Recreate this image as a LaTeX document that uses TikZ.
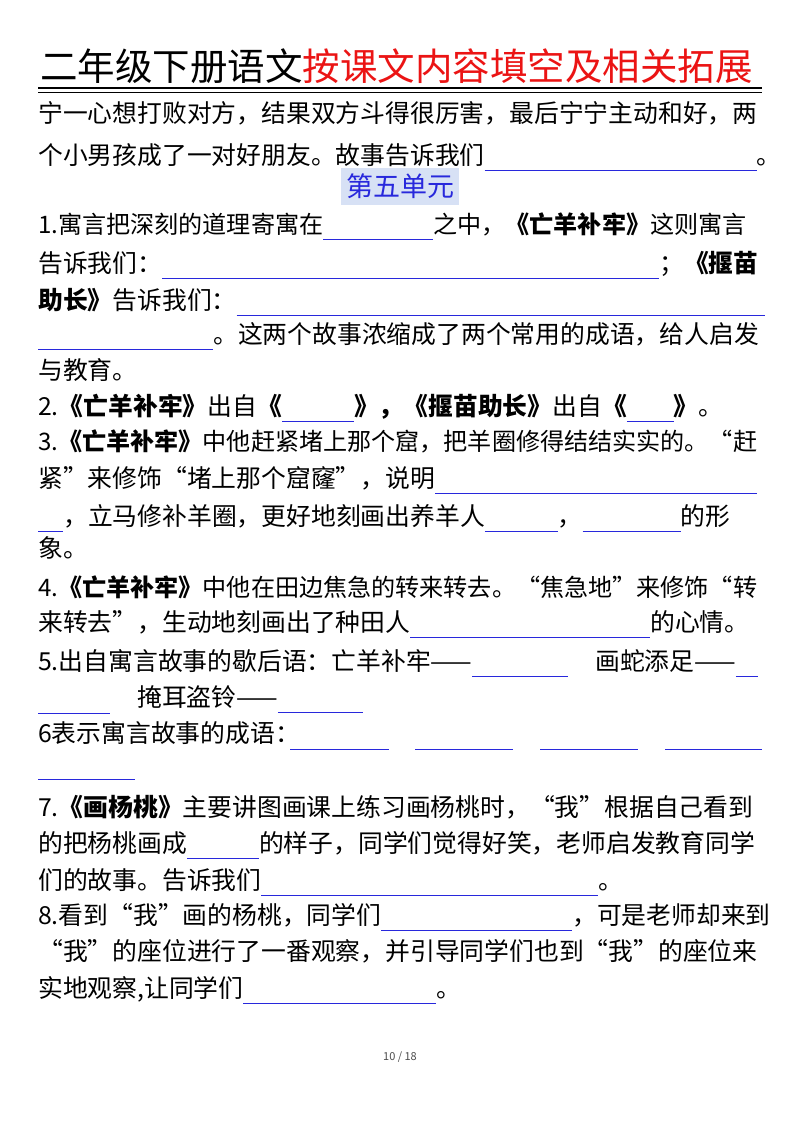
\documentclass[tikz,border=0pt]{standalone}
\usepackage{fontspec}
\setmainfont{Noto Sans CJK SC}
\definecolor{bl}{RGB}{40,40,220}
\definecolor{rd}{RGB}{235,20,20}
\definecolor{bgb}{RGB}{215,225,245}
\newcommand{\bk}[1]{\textcolor{bl}{\rule[-7pt]{#1pt}{0.9pt}}}
\newcommand{\B}[1]{\textbf{#1}}
\begin{document}
\begin{tikzpicture}[x=1pt,y=-1pt,
  ln/.style={anchor=base west,inner sep=0pt,font=\fontsize{24.8}{28}\selectfont},
  lns/.style={ln,font=\fontsize{24.1}{28}\selectfont}]
\useasboundingbox (0,0) rectangle (800,1132);
\fill[white] (0,0) rectangle (800,1132);
\node[anchor=base west,inner sep=0pt,font=\fontsize{37.5}{40}\selectfont] (title) at (40,81) {二年级下册语文\textcolor{rd}{按课文内容填空及相关拓展}};
\draw[line width=1.6pt] (38,88) -- (762,88);
\draw[line width=0.7pt] (38,92.5) -- (762,92.5);
\node[ln] (l1) at (38,122) {宁一心想打败对方，结果双方斗得很厉害，最后宁宁主动和好，两};
\node[ln] (l2) at (38,164) {个小男孩成了一对好朋友。故事告诉我们\bk{272}。};
\fill[bgb] (341,168) rectangle (459,205);
\node[ln,text=bl,font=\fontsize{27}{30}\selectfont] (u5) at (346,196) {第五单元};
\node[lns] (l3) at (38,233) {1.寓言把深刻的道理寄寓在\bk{110}之中，\B{《亡羊补牢》}这则寓言};
\node[ln] (l4) at (38,272) {告诉我们：\bk{497}；\B{《揠苗}};
\node[ln] (l5) at (38,309) {\B{助长》}告诉我们：\bk{528}};
\node[ln] (l6) at (38,343) {\bk{175}。这两个故事浓缩成了两个常用的成语，给人启发};
\node[ln] (l7) at (38,379) {与教育。};
\node[ln] (l8) at (38,415) {2.\B{《亡羊补牢》}出自\B{《}\bk{72}\B{》，《揠苗助长》}出自\B{《}\bk{47}\B{》}。};
\node[lns] (l9) at (38,450) {3.\B{《亡羊补牢》}中他赶紧堵上那个窟，把羊圈修得结结实实的。“赶};
\node[ln] (l10) at (38,487) {紧”来修饰“堵上那个窟窿”，说明\bk{322}};
\node[ln] (l11) at (38,525) {\bk{25}，立马修补羊圈，更好地刻画出养羊人\bk{73}，\bk{98}的形};
\node[ln] (l12) at (38,557) {象。};
\node[lns] (l13) at (38,596) {4.\B{《亡羊补牢》}中他在田边焦急的转来转去。“焦急地”来修饰“转};
\node[ln] (l14) at (38,631) {来转去”，生动地刻画出了种田人\bk{240}的心情。};
\node[ln] (l15) at (38,670) {5.出自寓言故事的歇后语：亡羊补牢——\bk{96}};
\node[ln] (l15b) at (595,670) {画蛇添足——\bk{22}};
\draw[bl,line width=0.9pt] (38,713) -- (110,713);
\node[ln] (l16) at (137,706) {掩耳盗铃——\bk{85}};
\node[ln] (l17) at (38,742) {6表示寓言故事的成语：};
\draw[bl,line width=0.9pt] (290,749) -- (389,749) (415,749) -- (513,749) (540,749) -- (638,749) (665,749) -- (762,749) (38,779) -- (135,779);
\node[ln] (l19) at (38,816) {7.\B{《画杨桃》}主要讲图画课上练习画杨桃时，“我”根据自己看到};
\node[ln] (l20) at (38,852) {的把杨桃画成\bk{72}的样子，同学们觉得好笑，老师启发教育同学};
\node[ln] (l21) at (38,889) {们的故事。告诉我们\bk{337}。};
\node[ln] (l22) at (38,924) {8.看到“我”画的杨桃，同学们\bk{191}，可是老师却来到};
\node[ln] (l23) at (38,960) {“我”的座位进行了一番观察，并引导同学们也到“我”的座位来};
\node[ln] (l24) at (38,997) {实地观察,让同学们\bk{193}。};
\node[font=\fontsize{11}{12}\selectfont,text=black!70] (pg) at (400,1057) {10 / 18};
\end{tikzpicture}
\end{document}
